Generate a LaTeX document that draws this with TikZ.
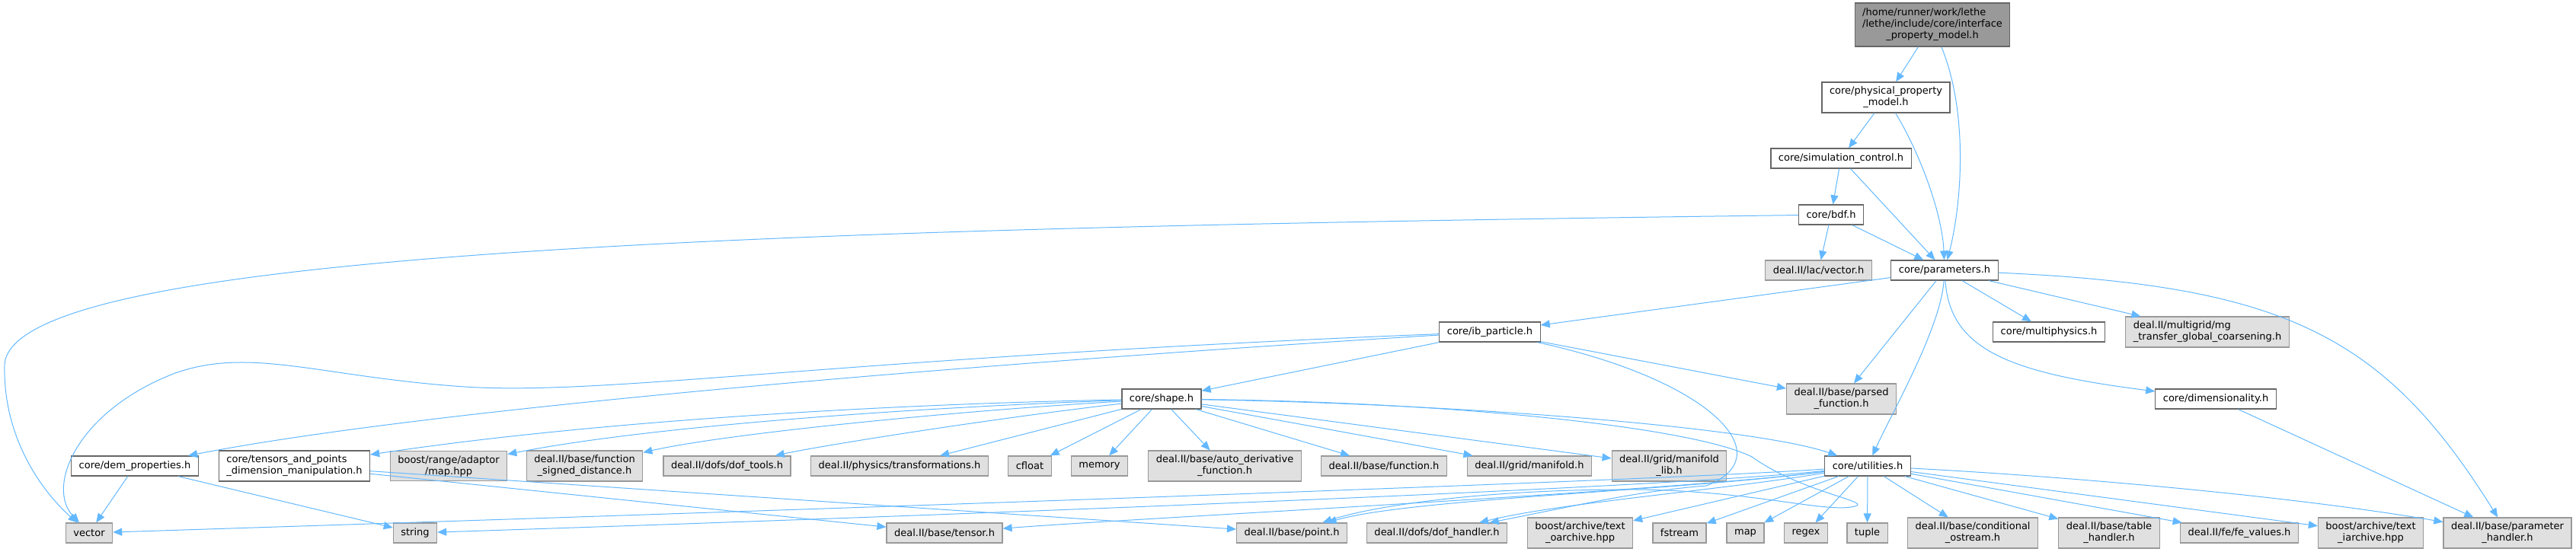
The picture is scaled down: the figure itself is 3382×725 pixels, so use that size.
\documentclass[tikz,border=0pt]{standalone}
\usepackage{fontspec}
\setmainfont{DejaVu Sans}
\usetikzlibrary{arrows.meta}
\definecolor{edgeblue}{HTML}{63B8FF}
\definecolor{hdrline}{HTML}{666666}
\definecolor{extline}{HTML}{999999}
\definecolor{extfill}{HTML}{E0E0E0}
\definecolor{rootfill}{HTML}{999999}

\begin{document}
\begin{tikzpicture}[x=1pt, y=-1pt,
			filebox/.style={draw, line width=1.2pt, minimum height=26pt, inner xsep=10pt, inner ysep=6pt,
				align=center, font=\fontsize{13}{15}\selectfont},
			hdr/.style={filebox, draw=hdrline, fill=white},
			ext/.style={filebox, draw=extline, fill=extfill},
			root/.style={filebox, draw=hdrline, fill=rootfill},
			dep/.style={draw=edgeblue, line width=1pt, -{Triangle[length=12pt,width=10pt]}}]

		\useasboundingbox (0,0) rectangle (3382,725);

		% ===== top chain =====
		\node[root] (ipm) at (2537,32.5) {\begin{tabular}{@{}c@{}}\multicolumn{1}{@{}l@{}}{/home/runner/work/lethe}\\
			/lethe/include/core/interface\\ \_property\_model.h\end{tabular}};
		\node[hdr] (ppm) at (2476,128) {core/physical\_property\\\_model.h};
		\node[hdr] (simctl) at (2417,208) {core/simulation\_control.h};
		\node[hdr] (bdf) at (2404,282) {core/bdf.h};
		\node[ext] (lacvec) at (2387.5,355) {deal.II/lac/vector.h};
		\node[hdr] (params) at (2553,355) {core/parameters.h};

		% ===== second level =====
		\node[hdr] (ibp) at (1956,436) {core/ib\_particle.h};
		\node[hdr] (mphys) at (2690,436) {core/multiphysics.h};
		\node[ext, align=left] (mgtr) at (2898,436) {deal.II/multigrid/mg\\\_transfer\_global\_coarsening.h};
		\node[hdr] (shape) at (1525,524) {core/shape.h};
		\node[ext] (parsed) at (2417.5,524) {deal.II/base/parsed\\\_function.h};
		\node[hdr] (dimen) at (2909,524) {core/dimensionality.h};

		% ===== middle row =====
		\node[hdr] (demprop) at (177,612) {core/dem\_properties.h};
		\node[hdr, align=left] (tensdim) at (386.5,612) {core/tensors\_and\_points\\\_dimension\_manipulation.h};
		\node[ext] (rangemap) at (589,612) {boost/range/adaptor\\/map.hpp};
		\node[ext] (fsigned) at (767.5,612) {deal.II/base/function\\\_signed\_distance.h};
		\node[ext] (doftools) at (954.5,612) {deal.II/dofs/dof\_tools.h};
		\node[ext] (transf) at (1181,612) {deal.II/physics/transformations.h};
		\node[ext] (cfloat) at (1352,612) {cfloat};
		\node[ext] (memory) at (1443.5,612) {memory};
		\node[ext] (autoder) at (1608,612) {deal.II/base/auto\_derivative\\\_function.h};
		\node[ext] (func) at (1817,612) {deal.II/base/function.h};
		\node[ext] (manif) at (2008,612) {deal.II/grid/manifold.h};
		\node[ext] (maniflib) at (2191.5,612) {deal.II/grid/manifold\\\_lib.h};
		\node[hdr] (utils) at (2452,612) {core/utilities.h};

		% ===== bottom row =====
		\node[ext] (vect) at (117,700) {vector};
		\node[ext] (str) at (545,700) {string};
		\node[ext] (tensor) at (1240,700) {deal.II/base/tensor.h};
		\node[ext] (point) at (1696,700) {deal.II/base/point.h};
		\node[ext] (dofh) at (1886.5,700) {deal.II/dofs/dof\_handler.h};
		\node[ext] (oarch) at (2074.5,700) {boost/archive/text\\\_oarchive.hpp};
		\node[ext] (fstr) at (2205,700) {fstream};
		\node[ext] (map) at (2291.5,700) {map};
		\node[ext] (regex) at (2371,700) {regex};
		\node[ext] (tuple) at (2451.5,700) {tuple};
		\node[ext] (condos) at (2590,700) {deal.II/base/conditional\\\_ostream.h};
		\node[ext] (tableh) at (2769,700) {deal.II/base/table\\\_handler.h};
		\node[ext] (fevals) at (2940,700) {deal.II/fe/fe\_values.h};
		\node[ext] (iarch) at (3112.5,700) {boost/archive/text\\\_iarchive.hpp};
		\node[ext] (parh) at (3292,700) {deal.II/base/parameter\\\_handler.h};

		% ===== includes of the top chain =====
		\draw[dep] (ipm) -- (ppm);
		\draw[dep] (ipm) .. controls (2585,150) and (2575,270) .. (params);
		\draw[dep] (ppm) -- (simctl);
		\draw[dep] (ppm) .. controls (2520,200) and (2550,280) .. (params);
		\draw[dep] (simctl) -- (bdf);
		\draw[dep] (simctl) -- (params);
		\draw[dep] (bdf) -- (lacvec);
		\draw[dep] (bdf) -- (params);
		\draw[dep] (bdf) .. controls (1000,300) and (10,330) .. (6,480) .. controls (4,580) and (60,650) .. (vect);

		% ===== core/parameters.h =====
		\draw[dep] (params) -- (ibp);
		\draw[dep] (params) -- (parsed);
		\draw[dep] (params) .. controls (2548,430) and (2485,540) .. (utils);
		\draw[dep] (params) -- (mphys);
		\draw[dep] (params) -- (mgtr);
		\draw[dep] (params) .. controls (2560,460) and (2640,490) .. (dimen);
		\draw[dep] (params) .. controls (3000,375) and (3130,440) .. (parh);

		% ===== core/ib_particle.h =====
		\draw[dep] (ibp) -- (shape);
		\draw[dep] (ibp) -- (parsed);
		\draw[dep] (ibp) .. controls (1400,470) and (600,530) .. (demprop);
		\draw[dep] (ibp) .. controls (1100,470) and (800,520) .. (610,508)
			.. controls (420,495) and (330,455) .. (230,490) .. controls (100,540) and (60,640) .. (vect);
		\draw[dep] (ibp) .. controls (2250,500) and (2340,600) .. (2240,638)
			.. controls (2150,645) and (2080,662) .. (dofh);

		% ===== core/shape.h =====
		\draw[dep] (shape) .. controls (1200,530) and (800,550) .. (tensdim);
		\draw[dep] (shape) .. controls (1200,535) and (850,560) .. (rangemap);
		\draw[dep] (shape) .. controls (1250,540) and (950,570) .. (fsigned);
		\draw[dep] (shape) .. controls (1300,550) and (1080,585) .. (doftools);
		\draw[dep] (shape) -- (transf);
		\draw[dep] (shape) -- (cfloat);
		\draw[dep] (shape) -- (memory);
		\draw[dep] (shape) -- (autoder);
		\draw[dep] (shape) -- (func);
		\draw[dep] (shape) -- (manif);
		\draw[dep] (shape) -- (maniflib);
		\draw[dep] (shape) .. controls (1900,530) and (2300,560) .. (utils);
		\draw[dep] (shape) .. controls (1900,528) and (2220,560) .. (2300,600)
			.. controls (2370,650) and (2470,660) .. (2430,666)
			.. controls (2390,672) and (2300,645) .. (2150,643)
			.. controls (1950,642) and (1800,665) .. (point);

		% ===== core/utilities.h =====
		\draw[dep] (utils) .. controls (2200,630) and (1200,665) .. (vect);
		\draw[dep] (utils) .. controls (2200,640) and (1300,675) .. (str);
		\draw[dep] (utils) .. controls (2200,645) and (1500,680) .. (tensor);
		\draw[dep] (utils) .. controls (2200,645) and (1850,655) .. (point);
		\draw[dep] (utils) .. controls (2250,645) and (2050,660) .. (dofh);
		\draw[dep] (utils) -- (oarch);
		\draw[dep] (utils) -- (fstr);
		\draw[dep] (utils) -- (map);
		\draw[dep] (utils) -- (regex);
		\draw[dep] (utils) -- (tuple);
		\draw[dep] (utils) -- (condos);
		\draw[dep] (utils) -- (tableh);
		\draw[dep] (utils) -- (fevals);
		\draw[dep] (utils) -- (iarch);
		\draw[dep] (utils) .. controls (2700,625) and (3000,650) .. (parh);

		% ===== remaining headers =====
		\draw[dep] (tensdim) -- (tensor);
		\draw[dep] (tensdim) -- (point);
		\draw[dep] (demprop) -- (vect);
		\draw[dep] (demprop) -- (str);
		\draw[dep] (dimen) -- (parh);
	\end{tikzpicture}
\end{document}
